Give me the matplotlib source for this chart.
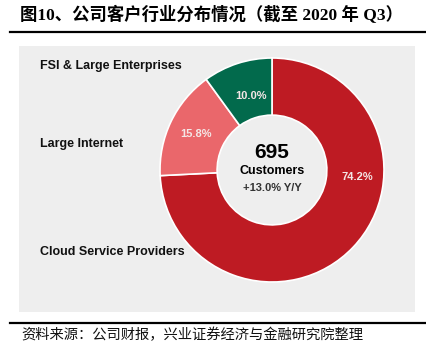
import matplotlib
matplotlib.use("Agg")
import matplotlib.pyplot as plt
from matplotlib.patches import Rectangle
from matplotlib.lines import Line2D

# data
segments = ["Cloud Service Providers", "Large Internet", "FSI & Large Enterprises"]
shares = [74.2, 15.8, 10.0]
colors = ["#BE1B23", "#EA676B", "#026A4C"]
total_customers = "695"
growth = "+13.0% Y/Y"

title = "图10、公司客户行业分布情况（截至 2020 年 Q3）"
source = "资料来源：公司财报，兴业证券经济与金融研究院整理"

W, H = 427, 352


def px(x, y):
    # pixel (top-left origin) -> figure fraction
    return x / W, 1 - y / H


fig = plt.figure(figsize=(W / 100, H / 100), dpi=100)
fig.patch.set_facecolor("white")

# gray panel
x0, y0 = px(19, 312)
fig.patches.append(Rectangle((x0, y0), (415 - 19) / W, (312 - 46) / H,
                             transform=fig.transFigure, facecolor="#EEEEEE",
                             edgecolor="none", zorder=-1))

# rules
for yy in (31.5, 322.5):
    fig.lines.append(Line2D([10 / W, 1.0], [1 - yy / H] * 2, transform=fig.transFigure,
                            color="black", linewidth=1.6))

cjk_serif = ["Liberation Serif", "Noto Sans CJK SC"]
fig.text(*px(20, 15), title, fontsize=12.5, fontweight="bold", family=cjk_serif,
         ha="left", va="center")
fig.text(*px(21, 335), source, fontsize=10.3, family=["Noto Sans CJK SC"],
         ha="left", va="center", color="#111111")

# donut
cx, cy, r = 272, 170, 112
left, top = px(cx - r, cy - r)
ax = fig.add_axes([left, top - 2 * r / H, 2 * r / W, 2 * r / H], zorder=1)
ax.set_facecolor("none")
wedges, _, autotexts = ax.pie(shares, colors=colors, startangle=90, counterclock=False,
                              radius=1.0, autopct="%.1f%%", pctdistance=0.75,
                              wedgeprops=dict(width=0.51, edgecolor="white", linewidth=1.2),
                              textprops=dict(color="#F4E6E6", fontsize=8,
                                             fontweight="bold", family="Liberation Sans"))
autotexts[0].set_position((0.76, -0.06))
autotexts[2].set_position((-0.19, 0.66))
ax.set_xlim(-1, 1)
ax.set_ylim(-1, 1)
ax.set_aspect("equal")
ax.axis("off")

ax.text(0, 0.16, total_customers, ha="center", va="center", fontsize=15,
        fontweight="bold", family="Liberation Sans")
ax.text(0, -0.01, "Customers", ha="center", va="center", fontsize=9,
        fontweight="bold", family="Liberation Sans")
ax.text(0, -0.16, growth, ha="center", va="center", fontsize=8,
        fontweight="bold", family="Liberation Sans", color="#333333")

# category labels on the left
label_y = {"FSI & Large Enterprises": 66, "Large Internet": 144,
           "Cloud Service Providers": 252}
for name in segments:
    fig.text(*px(40, label_y[name]), name, ha="left", va="center", fontsize=9,
             fontweight="bold", family="Liberation Sans", color="#111111")

fig.savefig("out.png", dpi=100)
